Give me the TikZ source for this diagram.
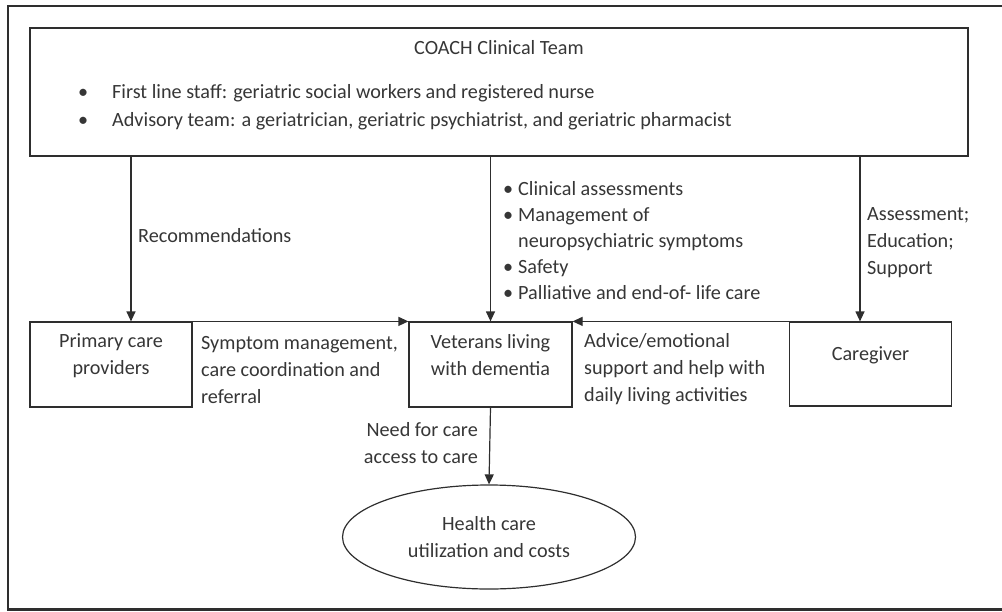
\documentclass[tikz,border=0pt]{standalone}
\usepackage{fontspec}
\setmainfont{Carlito}
\usepackage{tikz}
\usetikzlibrary{arrows.meta, positioning, shapes.geometric}
\definecolor{inkline}{HTML}{2E2E2E}
\definecolor{inktext}{HTML}{363636}
\newcommand{\bul}{\makebox[15pt][l]{\textbullet}}
\newcommand{\nobul}{\makebox[15pt][l]{}}
\newcommand{\tabbul}{\makebox[34pt][l]{\textbullet}}

\begin{document}
\begin{tikzpicture}[
    x=1pt, y=-1pt,
    every node/.style={font=\fontsize{20.2}{27}\selectfont, text=inktext},
    box/.style={
        rectangle,
        draw=inkline,
        line width=1.2pt,
        minimum width=162,
        minimum height=85,
        text depth=20pt,
        align=center,
        inner sep=0pt
    },
    label/.style={align=left, inner sep=0pt},
    arrow/.style={line width=1.2pt, draw=inkline, -{Triangle[length=10pt, width=9pt]}}
]
\useasboundingbox (0,0) rectangle (1002,611);
\draw[draw=inkline, line width=2.2pt] (8,6) rectangle (1010,609.5);

% clinical team on top
\node[rectangle, draw=inkline, line width=1.2pt, minimum width=938, minimum height=128,
      inner sep=0pt] (team) at (499,92) {};
\node[inner sep=0pt] (teamtitle) at (499,48) {COACH Clinical Team};
\node[label, anchor=west, font=\fontsize{20.2}{28}\selectfont] (teamlist) at (78,107)
{\tabbul First line staff: geriatric social workers and registered nurse\\
 \tabbul Advisory team: a geriatrician, geriatric psychiatrist, and geriatric pharmacist};

% middle row
\node[box] (prov) at (111,364.5) {Primary care\\providers};
\node[box, minimum width=163] (vets) at (490.5,364.5) {Veterans living\\with dementia};
\node[box, minimum height=84] (care) at (870.5,364) {Caregiver};

% outcome
\node[ellipse, draw=inkline, line width=1.2pt, minimum width=293, minimum height=104,
      inner sep=0pt, align=center] (health) at (489,537) {Health care\\utilization and costs};

% arrows
\draw[arrow] (team.south -| 131,0) -- (prov.north -| 131,0);
\draw[arrow] (team.south -| vets.north) -- (vets.north);
\draw[arrow] (team.south -| 860,0) -- (care.north -| 860,0);
\draw[arrow] (prov.north east) -- (vets.north west);
\draw[arrow] (care.north west) -- (vets.north east);
\draw[arrow] (vets.south) -- (health.north);

% arrow labels
\node[label, anchor=west] (reclabel) at (138,236) {Recommendations};
\node[label, anchor=west, font=\fontsize{20.2}{26.2}\selectfont] (teamlabel) at (503,240.5)
{\bul Clinical assessments\\
 \bul Management of\\
 \nobul neuropsychiatric symptoms\\
 \bul Safety\\
 \bul Palliative and end-of- life care};
\node[label, anchor=west] (carelabel) at (867,243) {Assessment;\\Education;\\Support};
\node[label, anchor=west] (provlabel) at (201,370.5)
{Symptom management,\\care coordination and\\referral};
\node[label, anchor=west] (advlabel) at (584,369)
{Advice/emotional\\support and help with\\daily living activities};
\node[label, anchor=east, align=right] (needlabel) at (478,443.5)
{Need for care\\access to care};

\end{tikzpicture}
\end{document}
